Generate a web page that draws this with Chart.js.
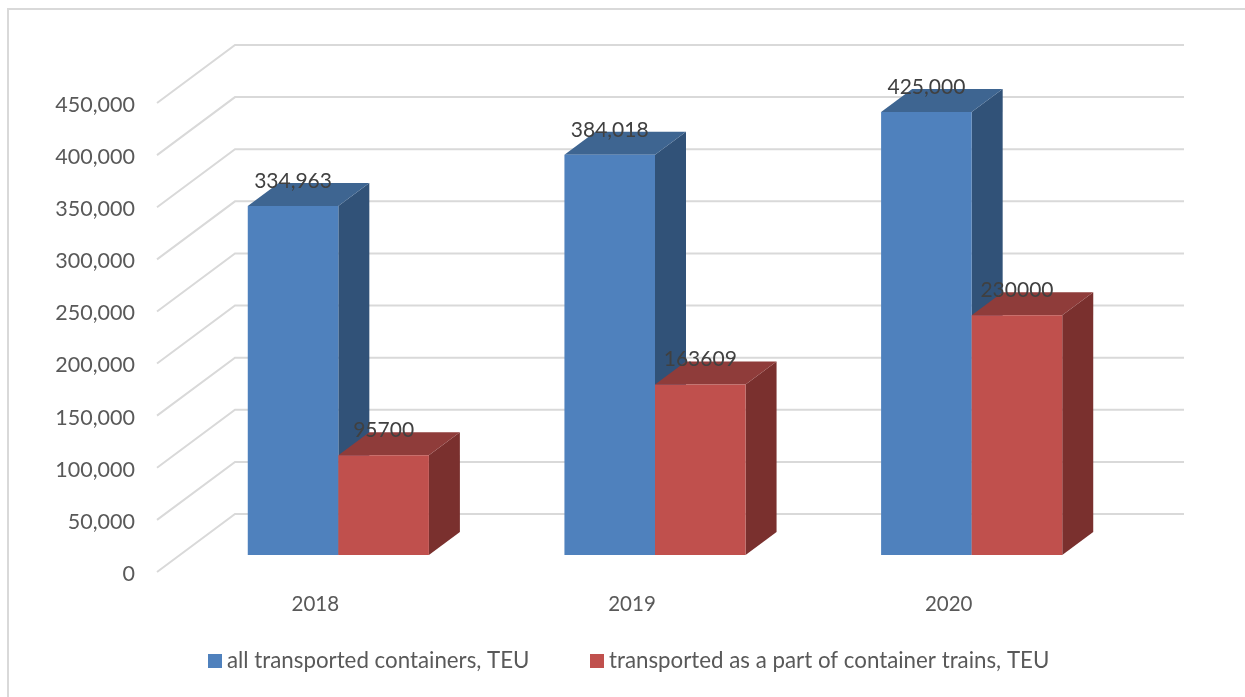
<!DOCTYPE html>
<html>
<head>
<meta charset="utf-8">
<style>
  html, body { margin: 0; padding: 0; background: #fff; }
  canvas { display: block; }
</style>
<script src="https://cdn.jsdelivr.net/npm/chart.js@4/dist/chart.umd.min.js"></script>
</head>
<body>
<canvas id="grafico" width="1245" height="697"></canvas>
<script>
const categorias = ["2018", "2019", "2020"];
const nomeTodos = "all transported containers, TEU";
const nomeTrens = "transported as a part of container trains, TEU";
const todos = [334963, 384018, 425000];
const trens = [95700, 163609, 230000];
const rotulosTodos = ["334,963", "384,018", "425,000"];
const rotulosTrens = ["95700", "163609", "230000"];

const fonte = "Lato, 'Open Sans', sans-serif";
// deslocamento da profundidade do falso 3D
const fundoX = 78, fundoY = -58;
const barraX = 31, barraY = -23;
const frenteX = 23, frenteY = -17;

const cores = [
    { frente: "#4f81bd", topo: "#3e6591", lado: "#315278" },
    { frente: "#c0504d", topo: "#8f3c3a", lado: "#7a302e" }
];

const pluginBorda = {
    id: "borda",
    beforeDraw(chart) {
        const c = chart.ctx;
        c.save();
        c.strokeStyle = "#d9d9d9";
        c.lineWidth = 2;
        c.beginPath();
        c.moveTo(8, 697);
        c.lineTo(8, 9);
        c.lineTo(1245, 9);
        c.stroke();
        c.restore();
    }
};

// desce um pouco os rotulos do eixo y, como no original
const pluginTicksY = {
    id: "ticksY",
    afterUpdate(chart) {
        chart.scales.y.getLabelItems().forEach((item) => {
            item.options.translation[1] += 2;
        });
    }
};

// linhas de grade no fundo e na parede esquerda
const pluginGrade = {
    id: "grade",
    beforeDatasetsDraw(chart) {
        const c = chart.ctx;
        const area = chart.chartArea;
        const y = chart.scales.y;
        c.save();
        c.strokeStyle = "#d9d9d9";
        c.lineWidth = 2;
        y.ticks.forEach((t) => {
            const py = y.getPixelForValue(t.value);
            c.beginPath();
            c.moveTo(area.left, py);
            c.lineTo(area.left + fundoX, py + fundoY);
            c.lineTo(area.right + fundoX - 1, py + fundoY);
            c.stroke();
        });
        c.restore();
    }
};

// desenha as series na ordem certa: azul primeiro, vermelho por cima
const pluginBarras3D = {
    id: "barras3d",
    beforeDatasetsDraw(chart) {
        const c = chart.ctx;
        c.save();
        c.translate(frenteX, frenteY);
        chart.data.datasets.forEach((ds, i) => {
            const meta = chart.getDatasetMeta(i);
            const cor = cores[i];
            meta.data.forEach((bar) => {
                const esq = bar.x - bar.width / 2;
                const dir = bar.x + bar.width / 2;
                c.fillStyle = cor.lado;
                c.beginPath();
                c.moveTo(dir, bar.y);
                c.lineTo(dir + barraX, bar.y + barraY);
                c.lineTo(dir + barraX, bar.base + barraY);
                c.lineTo(dir, bar.base);
                c.closePath();
                c.fill();
                c.fillStyle = cor.topo;
                c.beginPath();
                c.moveTo(esq, bar.y);
                c.lineTo(esq + barraX, bar.y + barraY);
                c.lineTo(dir + barraX, bar.y + barraY);
                c.lineTo(dir, bar.y);
                c.closePath();
                c.fill();
            });
            meta.controller.draw();
        });
        c.restore();
    },
    beforeDatasetDraw() {
        return false;
    }
};

const pluginRotulos = {
    id: "rotulos",
    afterDatasetsDraw(chart) {
        const c = chart.ctx;
        const listas = [rotulosTodos, rotulosTrens];
        c.save();
        c.font = "21px " + fonte;
        c.fillStyle = "#404040";
        c.textAlign = "center";
        c.textBaseline = "middle";
        chart.data.datasets.forEach((ds, i) => {
            chart.getDatasetMeta(i).data.forEach((bar, j) => {
                c.fillText(listas[i][j], bar.x + frenteX, bar.y + frenteY - 25);
            });
        });
        c.restore();
    }
};

// legenda propria: a do Chart.js nao deixa ajustar o espaco entre os itens
const pluginLegenda = {
    id: "legenda",
    afterDraw(chart) {
        const c = chart.ctx;
        const posicoes = [208, 590];
        c.save();
        c.font = "22.3px " + fonte;
        c.textBaseline = "middle";
        chart.data.datasets.forEach((ds, i) => {
            c.fillStyle = ds.backgroundColor;
            c.fillRect(posicoes[i], 654, 14, 14);
            c.fillStyle = "#595959";
            c.fillText(ds.label, posicoes[i] + 19, 661);
        });
        c.restore();
    }
};

const ctx = document.getElementById("grafico").getContext("2d");
const myChart = new Chart(ctx, {
    type: "bar",
    data: {
        labels: categorias,
        datasets: [
            { label: nomeTodos, data: todos, backgroundColor: cores[0].frente },
            { label: nomeTrens, data: trens, backgroundColor: cores[1].frente }
        ]
    },
    plugins: [pluginBorda, pluginTicksY, pluginGrade, pluginBarras3D, pluginRotulos, pluginLegenda],
    options: {
        responsive: false,
        animation: false,
        layout: { padding: { top: 103, right: 138, bottom: 0, left: 0 } },
        datasets: { bar: { categoryPercentage: 0.572, barPercentage: 1 } },
        scales: {
            x: {
                afterFit(scale) { scale.height = 125; },
                grid: { display: false },
                border: { display: false },
                ticks: { color: "#595959", font: { family: fonte, size: 20.5 }, padding: 12 }
            },
            y: {
                min: 0,
                max: 450000,
                afterFit(scale) { scale.width = 157; },
                grid: { display: false },
                border: { display: false },
                ticks: {
                    stepSize: 50000,
                    color: "#595959",
                    padding: 14,
                    font: { family: fonte, size: 21.5 },
                    callback: (v) => v.toLocaleString("en-US")
                }
            }
        },
        plugins: {
            tooltip: { enabled: false },
            legend: { display: false }
        }
    }
});
</script>
</body>
</html>
